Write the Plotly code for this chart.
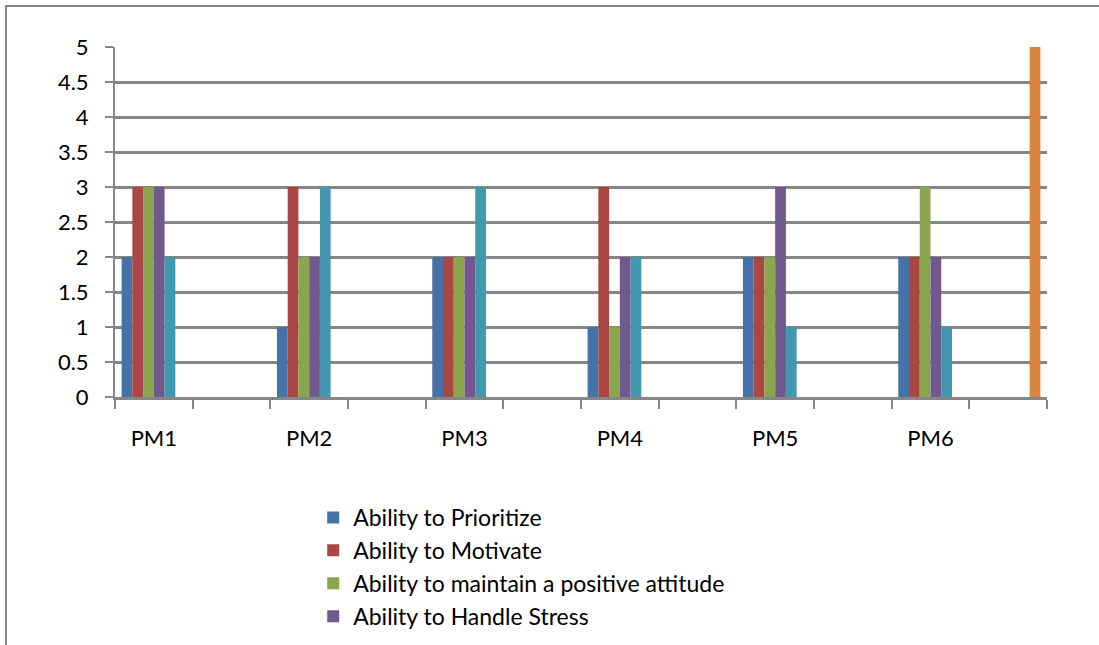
import plotly.graph_objects as go

categories = ["PM1", "", "PM2", "", "PM3", "", "PM4", "", "PM5", "", "PM6", ""]
prioritize = [2, None, 1, None, 2, None, 1, None, 2, None, 2, None]
motivate   = [3, None, 3, None, 2, None, 3, None, 2, None, 2, None]
attitude   = [3, None, 2, None, 2, None, 1, None, 2, None, 3, None]
stress     = [3, None, 2, None, 2, None, 2, None, 3, None, 2, None]
series5    = [2, None, 3, None, 3, None, 2, None, 1, None, 1, None]
series6    = [None, None, None, None, None, None, None, None, None, None, None, 5]

series = [
    ("Ability to Prioritize", prioritize, "#4572A7", True),
    ("Ability to Motivate", motivate, "#AA4643", True),
    ("Ability to maintain a positive attitude", attitude, "#89A54E", True),
    ("Ability to Handle Stress", stress, "#71588F", True),
    ("Series 5", series5, "#4198AF", False),
    ("Series 6", series6, "#DB843D", False),
]
y_ticks = [0, 0.5, 1, 1.5, 2, 2.5, 3, 3.5, 4, 4.5, 5]
y_tick_text = ["0", "0.5", "1", "1.5", "2", "2.5", "3", "3.5", "4", "4.5", "5"]

xs = list(range(len(categories)))
fig = go.Figure()
for i, (name, vals, color, show) in enumerate(series):
    fig.add_trace(go.Bar(
        x=xs, y=vals, name=name, marker=dict(color=color, line=dict(width=0)),
        showlegend=show, legendgroup=f"g{i}",
    ))

grey = "#868686"
label_idx = [i for i, c in enumerate(categories) if c]
fig.update_layout(
    width=1099, height=645,
    margin=dict(l=115, r=52, t=47, b=248, autoexpand=False),
    paper_bgcolor="white", plot_bgcolor="white",
    barmode="group", bargap=0.17, bargroupgap=0,
    font=dict(family="Lato", color="#000000"),
    xaxis=dict(
        range=[-0.5, len(categories) - 0.5], automargin=False,
        tickmode="array", tickvals=label_idx,
        ticktext=[categories[i] for i in label_idx],
        ticks="", showgrid=False, zeroline=False,
        showline=True, linecolor=grey, linewidth=3,
        tickfont=dict(size=22, family="Lato"),
        ticklabelstandoff=20,
        minor=dict(tickmode="array",
                   tickvals=[i - 0.5 for i in range(len(categories) + 1)],
                   ticks="outside", ticklen=9, tickwidth=2, tickcolor=grey,
                   showgrid=False),
    ),
    yaxis=dict(
        range=[0, 5], automargin=False,
        tickmode="array", tickvals=y_ticks, ticktext=y_tick_text,
        ticks="outside", ticklen=8, tickwidth=2, tickcolor=grey,
        showgrid=True, gridcolor=grey, gridwidth=3, zeroline=False,
        showline=True, linecolor=grey, linewidth=2,
        tickfont=dict(size=22, family="Lato"),
        ticklabelstandoff=12,
    ),
    legend=dict(
        xref="container", yref="container",
        x=0.285, y=0.231, xanchor="left", yanchor="top",
        font=dict(size=23, family="Lato"), tracegroupgap=0,
        bgcolor="rgba(0,0,0,0)",
    ),
    shapes=[dict(type="rect", xref="paper", yref="paper",
                 x0=-0.117, y0=1.117, x1=1.3, y1=-1.0,
                 line=dict(color=grey, width=2), layer="below")],
)

fig.write_html("out.html")
